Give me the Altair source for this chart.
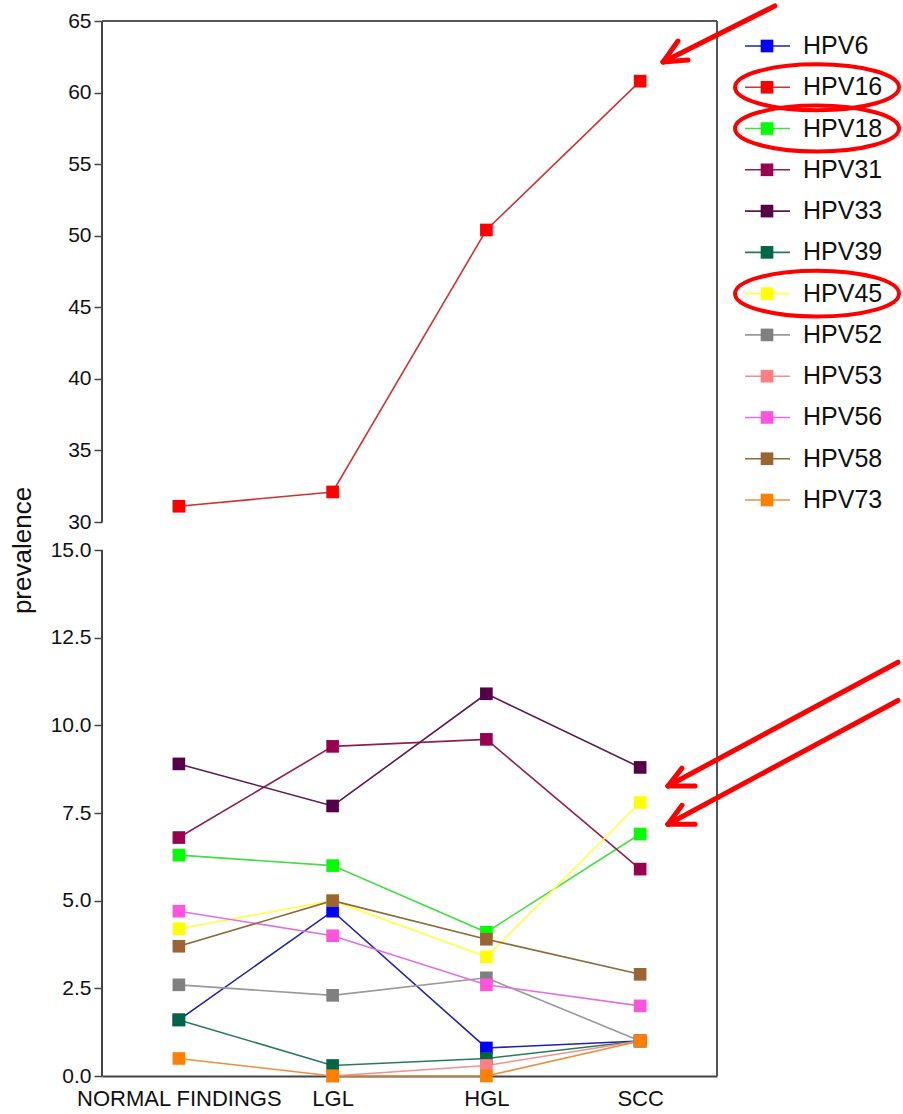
import json
import altair as alt
import pandas as pd

# ---------------- data ----------------
categories = ["NORMAL FINDINGS", "LGL", "HGL", "SCC"]
series = ["HPV6", "HPV16", "HPV18", "HPV31", "HPV33", "HPV39",
          "HPV45", "HPV52", "HPV53", "HPV56", "HPV58", "HPV73"]

hpv6 = [1.6, 4.7, 0.8, 1.0]
hpv16 = [31.1, 32.1, 50.4, 60.8]
hpv18 = [6.3, 6.0, 4.1, 6.9]
hpv31 = [6.8, 9.4, 9.6, 5.9]
hpv33 = [8.9, 7.7, 10.9, 8.8]
hpv39 = [1.6, 0.3, 0.5, 1.0]
hpv45 = [4.2, 5.0, 3.4, 7.8]
hpv52 = [2.6, 2.3, 2.8, 1.0]
hpv53 = [None, 0.0, 0.3, 1.0]
hpv56 = [4.7, 4.0, 2.6, 2.0]
hpv58 = [3.7, 5.0, 3.9, 2.9]
hpv73 = [0.5, 0.0, 0.0, 1.0]

values = [hpv6, hpv16, hpv18, hpv31, hpv33, hpv39,
          hpv45, hpv52, hpv53, hpv56, hpv58, hpv73]

y_ticks = [0, 2.5, 5, 7.5, 10, 12.5, 15, 30, 35, 40, 45, 50, 55, 60, 65]
highlighted = ["HPV16", "HPV18", "HPV45"]

# ---------------- styles ----------------
marker_colors = ["#0000ff", "#ff0000", "#00ff00", "#990050", "#550048", "#006644",
                 "#ffff00", "#808080", "#ff8080", "#ff55dd", "#996633", "#ff8000"]
line_colors = ["#2222aa", "#cc3333", "#44dd44", "#8c2050", "#5a1a50", "#2a7a5a",
               "#ffff44", "#999999", "#f09090", "#e070e0", "#8a6a3a", "#e89040"]

FONT = "Liberation Sans"
W, H = 615, 1055

rows = []
for k, s in enumerate(series):
    for i, c in enumerate(categories):
        v = values[k][i]
        if v is None:
            continue
        rows.append({"series": s, "category": c, "pos": i, "prevalence": v, "order": k})
df = pd.DataFrame(rows)

# ---------------- scales / axes ----------------
x_scale = alt.Scale(domain=[-0.5, len(categories) - 0.5], nice=False, zero=False)
y_scale = alt.Scale(type="linear", domain=[0, 15, 30, 65], range=[H, 529, 501, 0],
                    nice=False, zero=False)

x_axis = alt.Axis(values=list(range(len(categories))),
                  labelExpr=json.dumps(categories) + "[datum.value]",
                  title=None, grid=False, ticks=False, tickSize=0,
                  labelPadding=12, labelFontSize=22, labelColor="#111",
                  labelFont=FONT, labelFlush=False, labelOverlap=False, labelLimit=0,
                  domainColor="#444", domainWidth=2)
y_axis = alt.Axis(values=y_ticks,
                  labelExpr="datum.value <= 15 ? format(datum.value, '.1f') : format(datum.value, 'd')",
                  title="prevalence", titleFontSize=26, titleFontWeight="normal",
                  titleFont=FONT, titleColor="#111", titleAngle=270,
                  titleX=-80, titleY=529, titleAlign="center", titleBaseline="middle",
                  grid=False, domain=False, tickSize=8, tickWidth=1.5, tickColor="#444",
                  labelPadding=3, labelFontSize=21, labelColor="#111", labelFont=FONT,
                  labelFlush=False, labelOverlap=False)

X = alt.X("pos:Q", scale=x_scale, axis=x_axis)
Y = alt.Y("prevalence:Q", scale=y_scale, axis=y_axis)

stroke_enc = alt.Stroke("series:N", scale=alt.Scale(domain=series, range=line_colors), legend=None)
fill_enc = alt.Fill("series:N", scale=alt.Scale(domain=series, range=marker_colors), legend=None)

base = alt.Chart(df)
lines = base.mark_line(strokeWidth=1.6).encode(x=X, y=Y, stroke=stroke_enc,
                                               detail="series:N")
points = base.mark_point(shape="square", filled=True, size=160, opacity=1).encode(
    x=X, y=Y, fill=fill_enc, order=alt.Order("order:Q"))

# axis segments (broken y axis) and frame
left_axis = pd.DataFrame({"pos": [-0.5, -0.5], "prevalence": [0, 30],
                          "pos2": [-0.5, -0.5], "prevalence2": [15, 65]})
frame = pd.DataFrame({"pos": [-0.5, 3.5], "prevalence": [65, 0],
                      "pos2": [3.5, 3.5], "prevalence2": [65, 65]})
axis_rules = alt.Chart(left_axis).mark_rule(color="#444", strokeWidth=2).encode(
    x=X, y=Y, x2="pos2:Q", y2="prevalence2:Q")
frame_rules = alt.Chart(frame).mark_rule(color="#555", strokeWidth=2).encode(
    x=X, y=Y, x2="pos2:Q", y2="prevalence2:Q")

# red annotation arrows (data coordinates)
arrows = pd.DataFrame({
    "pos":         [3.149, 3.149, 3.149, 3.181, 3.181, 3.181, 3.181, 3.181, 3.181],
    "prevalence":  [62.14, 62.14, 62.14, 8.27, 8.27, 8.27, 7.18, 7.18, 7.18],
    "pos2":        [3.876, 3.246, 3.311, 4.677, 3.272, 3.357, 4.677, 3.272, 3.357],
    "prevalence2": [66.05, 63.60, 62.28, 11.80, 8.78, 8.27, 10.71, 7.72, 7.18],
})
arrow_rules = alt.Chart(arrows).mark_rule(color="#ff0000", strokeWidth=5, strokeCap="round").encode(
    x=X, y=Y, x2="pos2:Q", y2="prevalence2:Q")

main = alt.layer(axis_rules, frame_rules, lines, points, arrow_rules).properties(width=W, height=H)

# ---------------- legend ----------------
leg_df = pd.DataFrame({"series": series})
leg_y = alt.Y("series:N", sort=series,
              scale=alt.Scale(type="point", domain=series, range=[25, 479], padding=0),
              axis=None)
leg_base = alt.Chart(leg_df).encode(y=leg_y)
leg_lines = leg_base.mark_rule(strokeWidth=1.6).encode(
    x=alt.value(28), x2=alt.value(73), stroke=stroke_enc)
leg_points = leg_base.mark_point(shape="square", filled=True, size=160, opacity=1).encode(
    x=alt.value(50), fill=fill_enc)
leg_text = leg_base.mark_text(align="left", baseline="middle", fontSize=25, font=FONT,
                              color="#111").encode(x=alt.value(86), text="series:N")

# ellipse outline built from cubic Bezier segments (unit box -1..1)
ellipse_path = ("M-1,0 C-1,-0.155 -0.552,-0.28 0,-0.28 C0.552,-0.28 1,-0.155 1,0 "
                "C1,0.155 0.552,0.28 0,0.28 C-0.552,0.28 -1,0.155 -1,0 Z")
ellipses = alt.Chart(pd.DataFrame({"series": highlighted})).mark_point(
    shape=ellipse_path, size=164 * 164, filled=False, stroke="#ff0000",
    strokeWidth=4, strokeJoin="round", opacity=1).encode(x=alt.value(100), y=leg_y)

legend = alt.layer(leg_lines, leg_points, leg_text, ellipses).properties(width=186, height=H)

chart = alt.hconcat(main, legend, spacing=0, bounds="flush").properties(
    padding={"left": 9, "top": 3, "right": 0, "bottom": 0}
).configure(font=FONT).configure_view(stroke=None)

chart.save("out.html", embed_options={"renderer": "svg", "actions": False})
